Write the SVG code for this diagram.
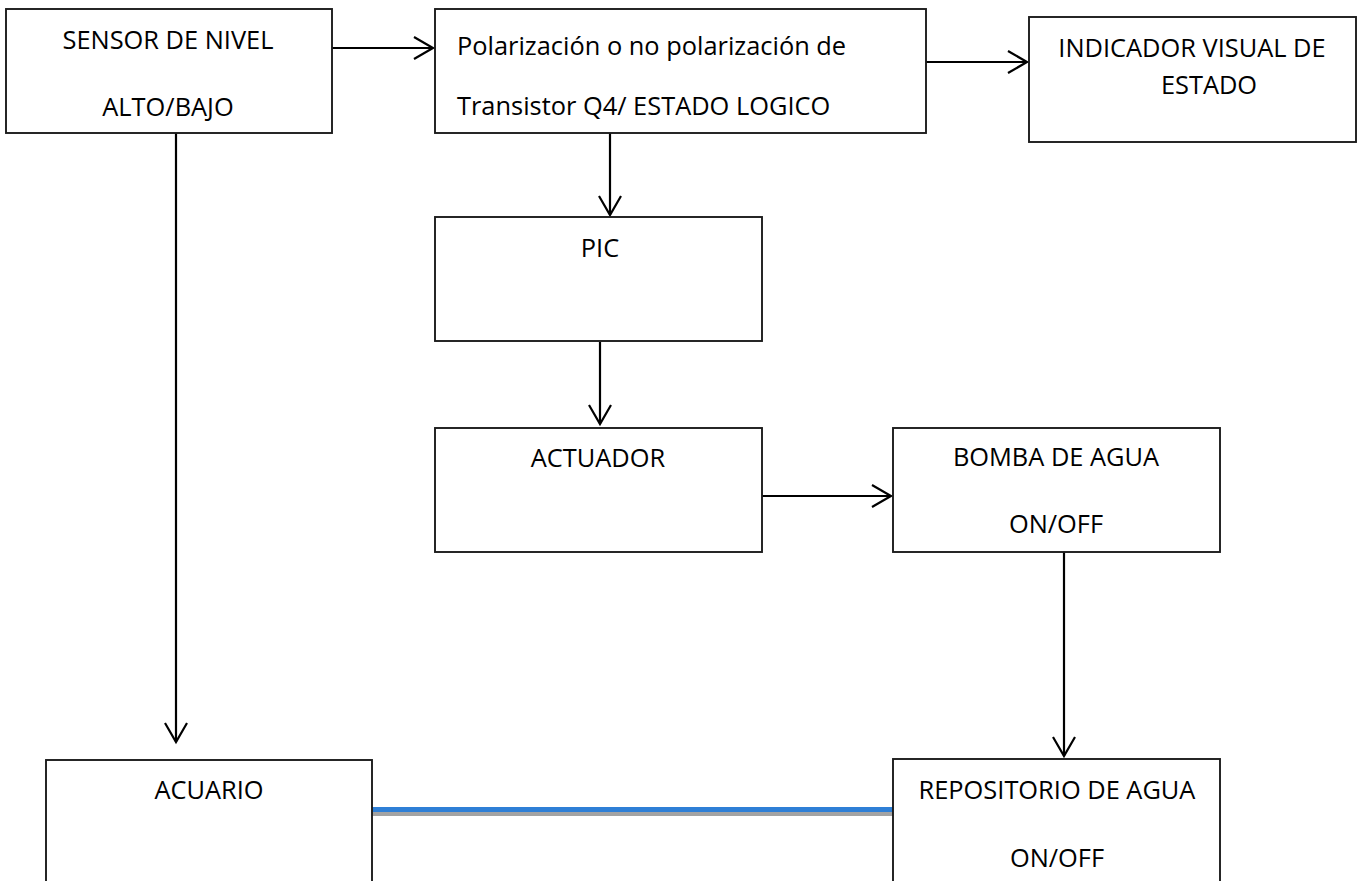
<svg xmlns="http://www.w3.org/2000/svg" width="1363" height="881" viewBox="0 0 1363 881">
  <style>
    .box { fill: #ffffff; stroke: #1c1c1c; stroke-width: 1.9; }
    .lbl { font-family: "Open Sans", "Liberation Sans", sans-serif; font-size: 25.4px; fill: #000000; }
    .mid { text-anchor: middle; }
    .wire { fill: none; stroke: #000000; stroke-width: 2.2; marker-end: url(#open-arrow); }
  </style>
  <defs>
    <marker id="open-arrow" viewBox="0 0 24 26" refX="21" refY="13" markerWidth="24" markerHeight="26" markerUnits="userSpaceOnUse" orient="auto">
      <path d="M2,2 L21,13 L2,24" fill="none" stroke="#000000" stroke-width="2.2"/>
    </marker>
  </defs>
  <rect width="1363" height="881" fill="#ffffff"/>

  <!-- connectors -->
  <g id="connectors">
    <line class="wire" x1="332" y1="48" x2="433" y2="48"/>
    <line class="wire" x1="926" y1="62" x2="1027" y2="62"/>
    <line class="wire" x1="610" y1="133" x2="610" y2="215"/>
    <line class="wire" x1="600" y1="342" x2="600" y2="424"/>
    <line class="wire" x1="762" y1="496" x2="891" y2="496"/>
    <line class="wire" x1="1064" y1="552" x2="1064" y2="756"/>
    <line class="wire" x1="176" y1="133" x2="176" y2="742"/>
    <!-- water pipe between aquarium and reservoir -->
    <rect x="372" y="807" width="521" height="5" fill="#2e7fd6"/>
    <rect x="372" y="812" width="521" height="4" fill="#a3a3a3"/>
  </g>

  <g id="sensor">
    <rect class="box" x="6" y="9" width="326" height="124"/>
    <text class="lbl mid" x="168" y="49">SENSOR DE NIVEL</text>
    <text class="lbl mid" x="168" y="116">ALTO/BAJO</text>
  </g>

  <g id="polarizacion">
    <rect class="box" x="435" y="9" width="491" height="124"/>
    <text class="lbl" x="457" y="55">Polarización o no polarización de</text>
    <text class="lbl" x="457" y="115">Transistor Q4/ ESTADO LOGICO</text>
  </g>

  <g id="indicador">
    <rect class="box" x="1029" y="17" width="327" height="125"/>
    <text class="lbl mid" x="1192" y="57">INDICADOR VISUAL DE</text>
    <text class="lbl mid" x="1209" y="94">ESTADO</text>
  </g>

  <g id="pic">
    <rect class="box" x="435" y="217" width="327" height="124"/>
    <text class="lbl mid" x="600" y="257">PIC</text>
  </g>

  <g id="actuador">
    <rect class="box" x="435" y="428" width="327" height="124"/>
    <text class="lbl mid" x="598" y="467">ACTUADOR</text>
  </g>

  <g id="bomba">
    <rect class="box" x="893" y="428" width="327" height="124"/>
    <text class="lbl mid" x="1056" y="466">BOMBA DE AGUA</text>
    <text class="lbl mid" x="1056" y="533">ON/OFF</text>
  </g>

  <g id="repositorio">
    <rect class="box" x="893" y="759" width="327" height="140"/>
    <text class="lbl mid" x="1057" y="799">REPOSITORIO DE AGUA</text>
    <text class="lbl mid" x="1057" y="867">ON/OFF</text>
  </g>

  <g id="acuario">
    <rect class="box" x="46" y="760" width="326" height="140"/>
    <text class="lbl mid" x="209" y="799">ACUARIO</text>
  </g>
</svg>
